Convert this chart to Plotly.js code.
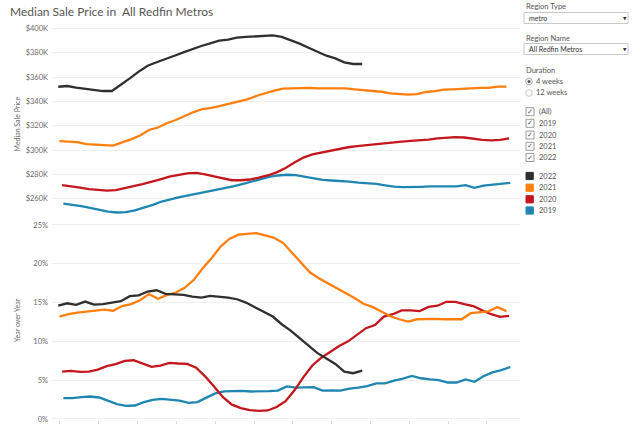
<!DOCTYPE html>
<html><head><meta charset="utf-8">
<script src="https://cdn.plot.ly/plotly-3.0.1.min.js"></script>
<style>html,body{margin:0;padding:0;background:#fff;}#chart{width:640px;height:436px;}</style>
</head><body><div id="chart"></div>
<script>
// ---- data ----
const years = ['2022', '2021', '2020', '2019'];
const lineColors = ['#2f2f2f', '#ff7f0e', '#c4161c', '#1f86b1'];
// day-of-year (0 = Jan 1) of the first weekly (4-week rolling) period of each year
const firstDay = [1, 2, 4, 5];

// Median sale price, $K, weekly
const price2022 = [352.0, 352.6, 351.2, 350.4, 349.0, 348.5, 348.5, 353.4, 358.9, 364.4, 369.3, 372.1, 374.5, 377.5, 380.3, 383.0, 385.5, 387.7, 389.9, 390.7, 392.3, 392.9, 393.2, 393.4, 394.2, 392.9, 390.4, 387.4, 384.1, 380.8, 377.5, 375.3, 372.1, 370.7, 370.7];
const price2021 = [307.4, 307.1, 306.6, 304.9, 304.6, 304.1, 303.6, 306.3, 308.8, 312.0, 316.5, 318.5, 322.0, 324.7, 327.9, 331.2, 333.7, 334.6, 336.2, 337.8, 340.0, 341.6, 344.4, 346.8, 348.8, 350.4, 350.7, 351.0, 351.0, 350.7, 350.7, 350.7, 350.7, 349.9, 349.3, 348.8, 347.9, 346.6, 346.0, 345.5, 346.0, 347.7, 348.5, 349.6, 349.9, 350.4, 350.7, 351.0, 351.0, 352.1, 352.1];
const price2020 = [271.1, 270.4, 269.1, 267.9, 267.1, 266.6, 267.1, 268.5, 270.3, 272.0, 273.7, 276.0, 278.1, 279.7, 280.8, 281.2, 280.1, 278.3, 276.5, 275.2, 275.2, 275.8, 277.3, 279.1, 281.7, 285.3, 289.7, 293.8, 296.5, 298.0, 299.5, 301.0, 302.3, 303.3, 304.1, 304.7, 305.4, 306.5, 307.0, 307.5, 307.9, 308.6, 309.6, 310.3, 310.7, 310.3, 309.2, 308.4, 308.0, 308.3, 309.5];
const price2019 = [255.9, 255.1, 253.9, 252.4, 250.7, 249.4, 248.7, 249.0, 250.4, 252.4, 255.0, 257.7, 259.8, 261.3, 262.8, 264.2, 265.5, 266.7, 268.3, 270.1, 272.0, 273.9, 276.0, 277.9, 279.1, 279.7, 279.4, 278.0, 276.6, 275.5, 275.0, 274.7, 274.1, 273.3, 272.8, 272.2, 271.0, 269.9, 269.5, 269.4, 269.8, 270.1, 270.0, 269.9, 270.2, 271.2, 269.0, 270.7, 271.5, 272.1, 273.1];

// Year over year change, %
const yoy2022 = [14.61, 14.91, 14.70, 15.13, 14.74, 14.79, 15.00, 15.17, 15.82, 15.94, 16.42, 16.59, 16.12, 16.03, 15.99, 15.77, 15.64, 15.86, 15.77, 15.64, 15.43, 15.00, 14.40, 13.80, 13.20, 12.21, 11.39, 10.41, 9.42, 8.48, 7.79, 7.10, 6.11, 5.90, 6.24];
const yoy2021 = [13.2, 13.5, 13.7, 13.85, 13.95, 14.1, 13.95, 14.55, 14.8, 15.3, 16.1, 15.5, 15.95, 16.3, 16.9, 17.9, 19.4, 20.7, 22.2, 23.2, 23.75, 23.85, 23.95, 23.65, 23.35, 22.7, 21.4, 20.1, 18.9, 18.15, 17.5, 16.9, 16.3, 15.6, 14.85, 14.44, 13.84, 13.24, 12.85, 12.55, 12.85, 12.9, 12.9, 12.85, 12.85, 12.85, 13.63, 13.76, 13.88, 14.42, 13.9];
const yoy2020 = [6.11, 6.20, 6.07, 6.11, 6.37, 6.80, 7.06, 7.49, 7.57, 7.15, 6.72, 6.89, 7.23, 7.15, 7.10, 6.6, 5.5, 4.2, 2.8, 1.85, 1.4, 1.15, 1.05, 1.1, 1.55, 2.3, 3.7, 5.4, 6.9, 7.9, 8.7, 9.4, 10.0, 10.9, 11.7, 12.1, 13.2, 13.5, 14.0, 14.0, 13.9, 14.45, 14.6, 15.1, 15.1, 14.8, 14.55, 14.0, 13.5, 13.15, 13.3];
const yoy2019 = [2.68, 2.68, 2.81, 2.90, 2.77, 2.30, 1.91, 1.69, 1.74, 2.17, 2.47, 2.60, 2.51, 2.38, 2.08, 2.17, 2.75, 3.3, 3.55, 3.63, 3.63, 3.54, 3.54, 3.58, 3.65, 4.2, 4.05, 4.05, 4.1, 3.65, 3.7, 3.65, 3.9, 4.05, 4.25, 4.6, 4.6, 4.95, 5.2, 5.55, 5.25, 5.1, 5.0, 4.7, 4.7, 5.1, 4.8, 5.5, 6.0, 6.3, 6.7];

const priceTicks = [260, 280, 300, 320, 340, 360, 380, 400];
const priceTickLabels = ['$260K', '$280K', '$300K', '$320K', '$340K', '$360K', '$380K', '$400K'];
const yoyTicks = [0, 5, 10, 15, 20, 25];
const yoyTickLabels = ['0%', '5%', '10%', '15%', '20%', '25%'];

const priceSeries = [price2022, price2021, price2020, price2019];
const yoySeries = [yoy2022, yoy2021, yoy2020, yoy2019];

// ---- layout helpers (pixel -> paper) ----
const W = 640, H = 436;
const PX = v => v / W, PY = v => 1 - v / H;

function weekDays(k, n) { const out = []; for (let i = 0; i < n; i++) out.push(firstDay[k] + 7 * i); return out; }

const traces = [];
for (let k = years.length - 1; k >= 0; k--) {
  traces.push({type: 'scatter', mode: 'lines', x: weekDays(k, priceSeries[k].length), y: priceSeries[k],
    xaxis: 'x', yaxis: 'y', line: {color: lineColors[k], width: 2.3}, name: years[k], hoverinfo: 'skip'});
}
for (let k = years.length - 1; k >= 0; k--) {
  traces.push({type: 'scatter', mode: 'lines', x: weekDays(k, yoySeries[k].length), y: yoySeries[k],
    xaxis: 'x', yaxis: 'y2', line: {color: lineColors[k], width: 2.3}, name: years[k], hoverinfo: 'skip'});
}

const FONT = 'Lato, "Open Sans", sans-serif';
const annotations = [];
const shapes = [];
function txt(text, x, y, size, color, opts) {
  annotations.push(Object.assign({text: text, x: PX(x), y: PY(y), xref: 'paper', yref: 'paper', showarrow: false,
    xanchor: 'left', yanchor: 'middle', font: {family: FONT, size: size, color: color}}, opts || {}));
}
function rect(x0, y0, x1, y1, line, fill) {
  shapes.push({type: 'rect', xref: 'paper', yref: 'paper', x0: PX(x0), x1: PX(x1), y0: PY(y1), y1: PY(y0),
    line: {color: line, width: 1}, fillcolor: fill});
}
function circle(cx, cy, r, line, fill, w) {
  shapes.push({type: 'circle', xref: 'paper', yref: 'paper', x0: PX(cx - r), x1: PX(cx + r), y0: PY(cy + r), y1: PY(cy - r),
    line: {color: line, width: w}, fillcolor: fill});
}

// axis titles
txt('Median Sale Price', 16, 124.5, 7, '#666', {textangle: -90, xanchor: 'center'});
txt('Year over Year', 17, 320, 7, '#666', {textangle: -90, xanchor: 'center'});

// filters panel
txt('Region Type', 523.5, 6.5, 7.5, '#555');
rect(524, 12.5, 628, 23.5, '#c8c8c8', '#ffffff');
txt('metro', 526.5, 18.2, 7, '#333');
txt('\u25BC', 620.5, 18.2, 4.5, '#333', {font: {family: 'DejaVu Sans', size: 4.5, color: '#333'}});
txt('Region Name', 523.5, 38, 7.5, '#555');
rect(524, 43.5, 628, 54.5, '#c8c8c8', '#ffffff');
txt('All Redfin Metros', 526.5, 49.2, 7, '#333');
txt('\u25BC', 620.5, 49.2, 4.5, '#333', {font: {family: 'DejaVu Sans', size: 4.5, color: '#333'}});
txt('Duration', 523.5, 70, 7.5, '#555');
circle(529, 81.5, 3.3, '#888', '#ffffff', 0.8);
circle(529, 81.5, 1.6, '#555', '#555', 0);
txt('4 weeks', 534, 81.3, 7.5, '#555');
circle(529, 93, 3.3, '#bbb', '#ffffff', 0.8);
txt('12 weeks', 534, 92.8, 7.5, '#555');

const checkLabels = ['(All)', '2019', '2020', '2021', '2022'];
const checkY = [111.7, 123.3, 135, 146.3, 157.5];
checkLabels.forEach((lab, j) => {
  rect(526, checkY[j] - 4, 534, checkY[j] + 4, '#9a9a9a', '#ffffff');
  txt('\u2713', 530, checkY[j], 7, '#555', {xanchor: 'center', font: {family: 'DejaVu Sans', size: 7, color: '#555'}});
  txt(lab, 537, checkY[j], 7.5, '#555');
});

const legY = [176, 187.7, 199.3, 210.5];
years.forEach((yr, k) => {
  rect(526, legY[k] - 3.6, 533.3, legY[k] + 3.6, lineColors[k], lineColors[k]);
  txt(yr, 536.5, legY[k], 7.5, '#555');
});

const yCommon = {showgrid: true, gridcolor: '#efefef', gridwidth: 1, zeroline: false, showline: false, ticks: '',
  tickfont: {family: FONT, size: 7.5, color: '#6a6a6a'}, automargin: false, fixedrange: true, ticklabelstandoff: 3};

const layout = {
  width: W, height: H, margin: {l: 0, r: 0, t: 0, b: 0}, paper_bgcolor: '#fff', plot_bgcolor: '#fff', showlegend: false,
  font: {family: FONT, color: '#666'},
  title: {text: 'Median Sale Price in\u00a0 All Redfin Metros', x: PX(10), xanchor: 'left', y: PY(12), yanchor: 'middle',
    font: {family: FONT, size: 12, color: '#555'}},
  xaxis: {domain: [PX(52), PX(520)], range: [-3.9, 362.6], anchor: 'y2', showgrid: false, zeroline: false, showline: false,
    ticks: 'outside', ticklen: 3, tickcolor: '#dcdcdc', tick0: 2.3, dtick: 30.4, showticklabels: false, automargin: false, fixedrange: true},
  yaxis: Object.assign({}, yCommon, {domain: [PY(217), PY(22)], range: [245, 405.2], tickmode: 'array', tickvals: priceTicks, ticktext: priceTickLabels}),
  yaxis2: Object.assign({}, yCommon, {domain: [PY(420), PY(219)], range: [-0.13, 25.77], tickmode: 'array', tickvals: yoyTicks, ticktext: yoyTickLabels}),
  annotations: annotations,
  shapes: shapes
};

Plotly.newPlot('chart', traces, layout, {staticPlot: true, displayModeBar: false});
</script></body></html>
